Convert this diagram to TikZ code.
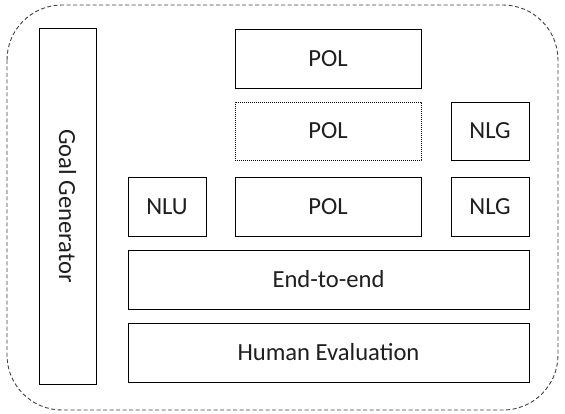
\documentclass[tikz,border=0pt]{standalone}
\usepackage{fontspec}
\setmainfont{Carlito}
\begin{document}
\begin{tikzpicture}[x=1pt,y=-1pt,
  txt/.style={font=\fontsize{24.6}{28}\selectfont, text=black!88},
  box/.style={draw=black, line width=0.9pt, fill=white, inner sep=0pt, txt},
  dotbox/.style={box, dash pattern=on 1.2pt off 0.8pt},
  outer/.style={draw=black!75, line width=0.9pt, dash pattern=on 4pt off 2.5pt, rounded corners=55pt}]
\useasboundingbox (0,0) rectangle (565,414);
\draw[outer] (7,5) rectangle (558,410);
\node[box, minimum width=57pt, minimum height=356pt] (goal) at (67.5,206) {};
\node[txt, rotate=-90] (goaltxt) at (goal.center) {Goal Generator};
\node[box, minimum width=186pt, minimum height=59pt] (pol1) at (328,58.5) {POL};
\node[dotbox, minimum width=186pt, minimum height=58pt] (pol2) at (328,131) {POL};
\node[box, minimum width=78pt, minimum height=58pt] (nlg1) at (490,131) {NLG};
\node[box, minimum width=78pt, minimum height=59pt] (nlu) at (167,206.5) {NLU};
\node[box, minimum width=186pt, minimum height=59pt] (pol3) at (328,206.5) {POL};
\node[box, minimum width=78pt, minimum height=59pt] (nlg2) at (490,206.5) {NLG};
\node[box, minimum width=401pt, minimum height=59pt] (e2e) at (328.5,279.5) {End-to-end};
\node[box, minimum width=401pt, minimum height=59pt] (human) at (328.5,352.5) {Human Evaluation};
\end{tikzpicture}
\end{document}
